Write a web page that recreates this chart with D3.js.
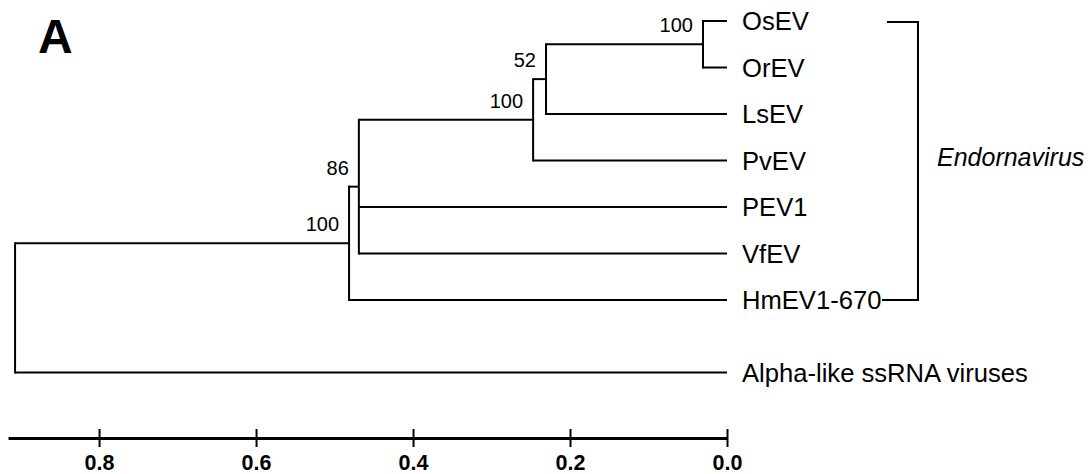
<!DOCTYPE html>
<html>
<head>
<meta charset="utf-8">
<script src="https://cdn.jsdelivr.net/npm/d3@7"></script>
<style>
  html, body { margin: 0; padding: 0; background: #fff; }
  svg { display: block; font-family: "Liberation Sans", Arial, sans-serif; }
</style>
</head>
<body>
<svg id="chart" width="1092" height="474"></svg>
<script>
// ---- Data ----
const nodeIds    = ["root", "endo", "n86", "n100b", "n52", "n100a",
                    "OsEV", "OrEV", "LsEV", "PvEV", "PEV1", "VfEV", "HmEV1-670", "Alpha-like ssRNA viruses"];
const nodeParents = ["", "root", "endo", "n86", "n100b", "n52",
                    "n100a", "n100a", "n52", "n100b", "n86", "n86", "endo", "root"];
// node depth in substitutions per site, measured back from the tips (0 = tips)
const nodeHeights = [0.907, 0.4815, 0.469, 0.247, 0.2306, 0.0306,
                     0, 0, 0, 0, 0, 0, 0, 0];
const bootstrap   = [null, 100, 86, 100, 52, 100,
                     null, null, null, null, null, null, null, null];
const leafOrder   = ["OsEV", "OrEV", "LsEV", "PvEV", "PEV1", "VfEV", "HmEV1-670", "Alpha-like ssRNA viruses"];
const outgroup    = "Alpha-like ssRNA viruses";
const cladeLabel  = "Endornavirus";
const cladeMembers = ["OsEV", "HmEV1-670"];
const axisTicks   = [0.8, 0.6, 0.4, 0.2, 0.0];
const axisDomainMax = 0.916;
const panelLabel  = "A";

// ---- Build hierarchy ----
const table = nodeIds.map((id, i) => ({ id, parent: nodeParents[i] || null, h: nodeHeights[i], bs: bootstrap[i] }));
const root = d3.stratify().id(d => d.id).parentId(d => d.parent)(table);

const svg = d3.select("#chart");
const x = d3.scaleLinear().domain([0, axisDomainMax]).range([727, 8]);
const yStep = d3.scaleLinear().domain([0, 6]).range([21, 300]);
const outgroupGap = 26;

const leafY = {};
leafOrder.forEach((name, i) => {
  leafY[name] = yStep(i) + (name === outgroup ? outgroupGap : 0);
});

root.eachAfter(n => {
  if (!n.children) {
    n.yy = leafY[n.id];
  } else {
    n.children.sort((a, b) => a.yy - b.yy);
    n.yy = (n.children[0].yy + n.children[n.children.length - 1].yy) / 2;
  }
  n.xx = x(n.data.h);
});

const g = svg.append("g");
const stroke = "#000";

// vertical connectors
root.descendants().filter(n => n.children).forEach(n => {
  const ys = n.children.map(c => c.yy);
  g.append("line")
    .attr("x1", n.xx).attr("x2", n.xx)
    .attr("y1", d3.min(ys) - 1).attr("y2", d3.max(ys) + 1)
    .attr("stroke", stroke).attr("stroke-width", 2);
});
// horizontal branches
root.descendants().filter(n => n.parent).forEach(n => {
  g.append("line")
    .attr("x1", n.parent.xx).attr("x2", n.xx)
    .attr("y1", n.yy).attr("y2", n.yy)
    .attr("stroke", stroke).attr("stroke-width", 2);
});

// leaf labels
root.leaves().forEach(n => {
  g.append("text")
    .attr("x", n.xx + 15).attr("y", n.yy + 9)
    .attr("font-size", 25.6)
    .attr("fill", "#000")
    .text(n.id);
});

// bootstrap labels
root.descendants().filter(n => n.data.bs != null).forEach(n => {
  g.append("text")
    .attr("x", n.xx - 10).attr("y", n.yy - 12)
    .attr("text-anchor", "end")
    .attr("font-size", 20)
    .attr("fill", "#000")
    .text(n.data.bs);
});

// clade bracket
const yTop = leafY[cladeMembers[0]] + 1;
const yBot = leafY[cladeMembers[1]];
const bx = 918;
g.append("path")
  .attr("d", `M887,${yTop}H${bx}V${yBot}H882`)
  .attr("fill", "none").attr("stroke", stroke).attr("stroke-width", 2);
g.append("text")
  .attr("x", 937).attr("y", (yTop + yBot) / 2 + 5)
  .attr("font-size", 25).attr("font-style", "italic")
  .attr("fill", "#000")
  .text(cladeLabel);

// axis
const axisG = svg.append("g").attr("transform", "translate(0,438)")
  .call(d3.axisBottom(x).tickValues(axisTicks).tickFormat(d3.format(".1f")).tickSizeOuter(0));
axisG.select(".domain").attr("stroke-width", 3).attr("stroke", stroke);
axisG.selectAll(".tick line").attr("y1", -9).attr("y2", 9).attr("stroke-width", 2).attr("stroke", stroke);
axisG.selectAll(".tick text")
  .attr("y", 32).attr("dy", 0)
  .attr("font-size", 21.5).attr("font-weight", "bold")
  .attr("font-family", '"Liberation Sans", Arial, sans-serif')
  .attr("fill", "#000");

// panel label
svg.append("text")
  .attr("x", 38).attr("y", 53)
  .attr("font-size", 48).attr("font-weight", "bold")
  .attr("fill", "#000")
  .text(panelLabel);
</script>
</body>
</html>
